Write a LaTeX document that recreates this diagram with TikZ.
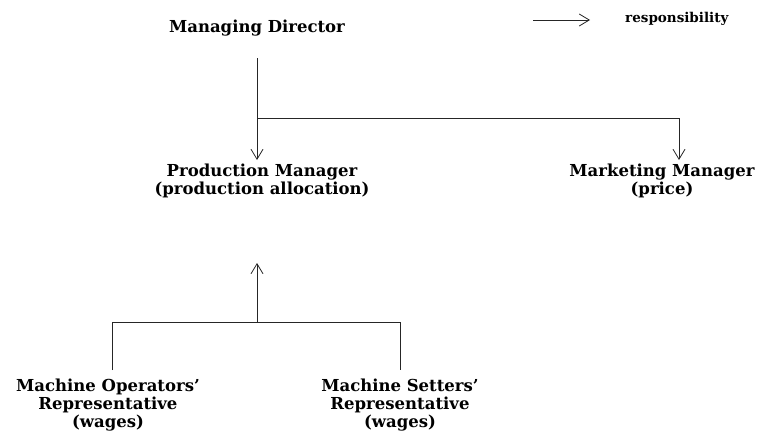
\documentclass[tikz,border=0pt]{standalone}
\usepackage{fontspec}
\setmainfont{DejaVu Serif}
\usetikzlibrary{arrows.meta}
\begin{document}
\begin{tikzpicture}[x=1pt,y=-1pt,
  lbl/.style={font=\bfseries\fontsize{16.5}{18}\selectfont, align=center, inner sep=0pt},
  leglbl/.style={font=\bfseries\fontsize{13.5}{16}\selectfont, inner sep=0pt, anchor=west},
  conn/.style={line width=0.8pt, draw=black!85},
  arr/.style={conn, -{Straight Barb[length=10pt,width=12pt,line width=0.8pt]}}]
\useasboundingbox (0,0) rectangle (779,442);
\node[lbl] (md) at (257,28) {Managing Director};
\node[lbl] (pm) at (262,181) {Production Manager\\(production allocation)};
\node[lbl] (mm) at (662,181) {Marketing Manager\\(price)};
\node[lbl] (mo) at (108,405) {Machine Operators’\\Representative\\(wages)};
\node[lbl] (ms) at (400,405) {Machine Setters’\\Representative\\(wages)};
\node[leglbl] (leg) at (625,19) {responsibility};
\coordinate (legs) at (533,20);
\coordinate (lege) at (590,20);
\draw[arr] (legs) -- (lege);
\coordinate (mdtop) at (257,58);
\coordinate (pmtip) at (257,160);
\coordinate (j1) at (257,118);
\coordinate (mmtip) at (679,160);
\draw[arr] (mdtop) -- (pmtip);
\draw[arr] (j1) -| (mmtip);
\coordinate (j2) at (257,322);
\coordinate (uptip) at (257,263);
\coordinate (lo) at (112,370);
\coordinate (ro) at (400,370);
\coordinate (lt) at (112,322);
\coordinate (rt) at (400,322);
\draw[arr] (j2) -- (uptip);
\draw[conn] (lo) -- (lt) -- (rt) -- (ro);
\end{tikzpicture}
\end{document}
